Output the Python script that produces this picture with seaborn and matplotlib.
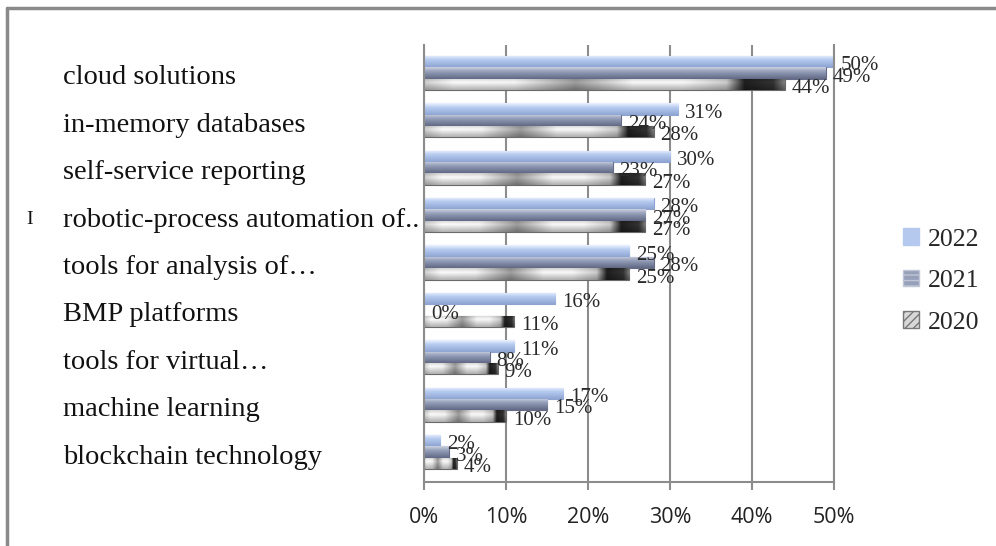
import numpy as np
import pandas as pd
import matplotlib
matplotlib.use("Agg")
import matplotlib.pyplot as plt
import seaborn as sns
from matplotlib.patches import Patch
from matplotlib.lines import Line2D
from matplotlib.transforms import ScaledTranslation

# ---------------- data ----------------
categories = [
    "cloud solutions",
    "in-memory databases",
    "self-service reporting",
    "robotic-process automation of..",
    "tools for analysis of\u2026",
    "BMP platforms",
    "tools for virtual\u2026",
    "machine learning",
    "blockchain technology",
]
years = ["2022", "2021", "2020"]
v2022 = [50, 31, 30, 28, 25, 16, 11, 17, 2]
v2021 = [49, 24, 23, 27, 28, 0, 8, 15, 3]
v2020 = [44, 28, 27, 27, 25, 11, 9, 10, 4]
xticks = [0, 10, 20, 30, 40, 50]
xtick_labels = ["0%", "10%", "20%", "30%", "40%", "50%"]

df = pd.DataFrame({
    "category": categories * 3,
    "year": np.repeat(years, len(categories)),
    "value": v2022 + v2021 + v2020,
})

# ---------------- style ----------------
sns.set_theme(style="white")
plt.rcParams["font.family"] = ["Liberation Serif", "DejaVu Serif"]

colors = {"2022": "#b5c9ef", "2021": "#96a0b9", "2020": "#c8c8c8"}
edge = {"2022": "#8ea3cf", "2021": "#646c88", "2020": "#6a6a6a"}

W, H = 996, 546
fig = plt.figure(figsize=(W / 100, H / 100), dpi=100)
ax_l, ax_r, ax_t, ax_b = 424, 834, 45, 482
ax = fig.add_axes([ax_l / W, 1 - ax_b / H, (ax_r - ax_l) / W, (ax_b - ax_t) / H])

sns.barplot(data=df, y="category", x="value", hue="year", hue_order=years,
            order=categories, orient="h", palette=colors, width=0.72,
            saturation=1, ax=ax, legend=False, linewidth=0.8)

# gradient overlays (cylinder look)
grad_tops = {
    "2022": (np.array([0.93, 0.95, 1.0]), np.array([0.72, 0.80, 0.94]), np.array([0.56, 0.65, 0.83])),
    "2021": (np.array([0.80, 0.82, 0.88]), np.array([0.59, 0.63, 0.73]), np.array([0.38, 0.41, 0.52])),
}

# horizontal pattern for 2020 (grayscale stops)
h_pos = [0.0, 0.08, 0.25, 0.42, 0.58, 0.72, 0.84, 0.89, 0.97, 1.0]
h_val = [0.82, 0.99, 0.97, 0.62, 0.98, 0.98, 0.80, 0.12, 0.20, 0.50]

for cont, yr in zip(ax.containers, years):
    for p in cont.patches:
        x0, y0 = p.get_x(), p.get_y()
        w, h = p.get_width(), p.get_height()
        p.set_edgecolor(edge[yr])
        if w <= 0:
            continue
        ny = 30
        t = np.linspace(0, 1, ny)[:, None]
        if yr in grad_tops:
            top, mid, bot = grad_tops[yr]
            img = np.where(t < 0.35,
                           top + (mid - top) * (t / 0.35),
                           mid + (bot - mid) * ((t - 0.35) / 0.65))
            img = img[:, None, :]
            img = np.repeat(img, 2, axis=1)
        else:
            nx = 200
            xs = np.linspace(0, 1, nx)
            hv = np.interp(xs, h_pos, h_val)
            vs = 1.0 - 0.30 * np.abs(t - 0.35) / 0.65
            g = np.clip(hv[None, :] * vs, 0, 1)
            img = np.dstack([g, g, g])
        im = ax.imshow(img, extent=[x0, x0 + w, y0 + h, y0], aspect="auto",
                       interpolation="bilinear", zorder=p.get_zorder() + 0.1)
        im.set_clip_path(p)

# value labels
for cont, yr in zip(ax.containers, years):
    for p in cont.patches:
        val = p.get_width()
        ax.annotate(f"{val:.0f}%", (val, p.get_y() + p.get_height() / 2),
                    xytext=(5, -3), textcoords="offset points",
                    ha="left", va="center", fontsize=15, color="#2a2a2a",
                    zorder=10)

ax.set_xlim(0, 50)
ax.set_ylim(len(categories) - 1 + 0.63, -0.59)
ax.set_xticks(xticks)
ax.set_xticklabels(xtick_labels, fontfamily="Open Sans", fontsize=15.5, color="#222222")
ax.set_xlabel("")
ax.set_ylabel("")
ax.grid(axis="x", color="#8c8c8c", linewidth=1.5, zorder=0)
ax.set_axisbelow(True)
for s in ["left", "bottom", "right"]:
    ax.spines[s].set_visible(True)
    ax.spines[s].set_color("#8c8c8c")
    ax.spines[s].set_linewidth(1.5)
ax.spines["top"].set_visible(False)
ax.tick_params(axis="x", length=6, width=1.5, color="#8c8c8c", direction="out", pad=12, bottom=True)
ax.tick_params(axis="y", length=0, pad=(ax_l - 63) * 0.72, labelsize=20.5, labelcolor="#111111")
for lbl in ax.get_yticklabels():
    lbl.set_ha("left")
    lbl.set_va("center")
    lbl.set_transform(lbl.get_transform() + ScaledTranslation(0, -5 / 100, fig.dpi_scale_trans))

# stray clipped glyph at far left
fig.text(30 / W, 1 - 220 / H, "I", fontsize=14, ha="center", va="center", color="#111111")

# frame lines
fig.add_artist(Line2D([7 / W, 7 / W], [0, 1 - 8 / H], transform=fig.transFigure,
                      color="#8a8a8a", linewidth=2.5))
fig.add_artist(Line2D([7 / W, 1], [1 - 8 / H, 1 - 8 / H], transform=fig.transFigure,
                      color="#8a8a8a", linewidth=2.5))

# legend
handles = [
    Patch(facecolor="#b5c9ef", edgecolor="#b5c9ef"),
    Patch(facecolor="#96a0b9", edgecolor="#c0c6d6", hatch="---"),
    Patch(facecolor="#d8d8d8", edgecolor="#777777", hatch="////"),
]
fig.legend(handles, years, loc="center left", bbox_to_anchor=(880 / W, 1 - 281 / H),
           frameon=False, prop={"family": "Liberation Serif", "size": 18.5},
           handlelength=0.6, handleheight=0.6, handletextpad=0.35, labelspacing=0.75)

fig.savefig("out.png", dpi=100, facecolor="white")
